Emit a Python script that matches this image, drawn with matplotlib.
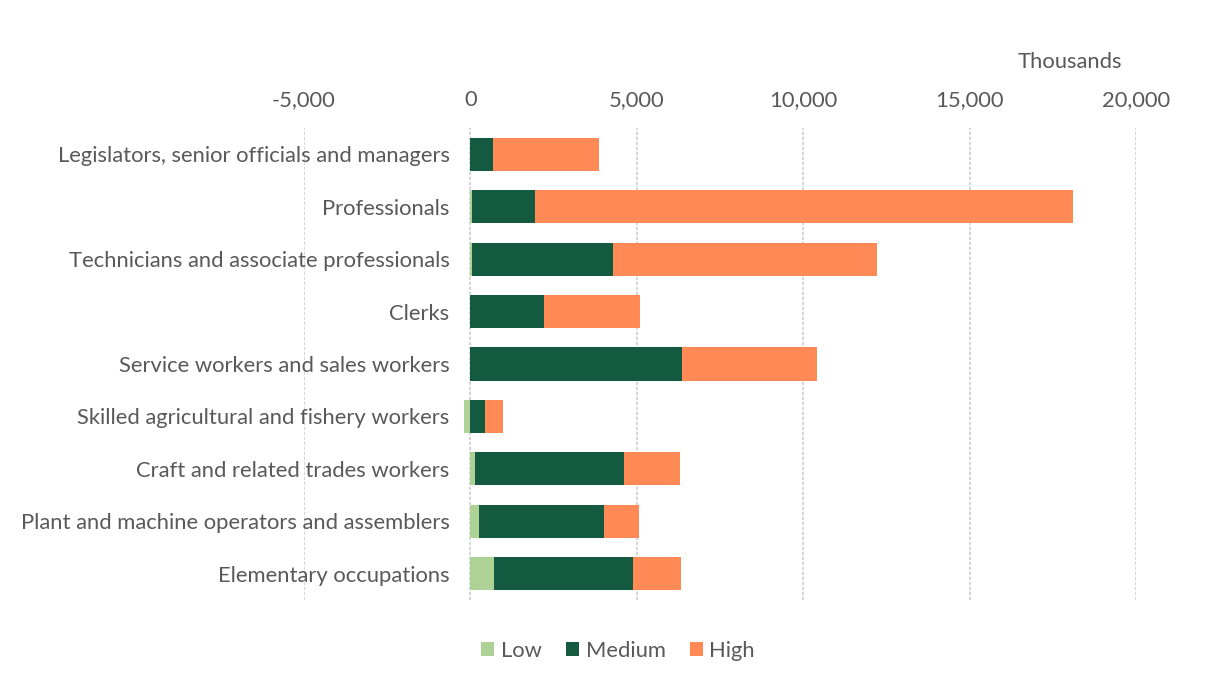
import matplotlib
matplotlib.use("Agg")
import matplotlib.pyplot as plt
from matplotlib.ticker import FuncFormatter
from matplotlib.patches import Patch

categories = [
    "Legislators, senior officials and managers",
    "Professionals",
    "Technicians and associate professionals",
    "Clerks",
    "Service workers and sales workers",
    "Skilled agricultural and fishery workers",
    "Craft and related trades workers",
    "Plant and machine operators and assemblers",
    "Elementary occupations",
]
low = [0, 60, 60, 0, 0, -200, 140, 260, 712]
medium = [670, 1890, 4220, 2225, 6345, 451, 4480, 3750, 4170]
high = [3180, 16155, 7930, 2857, 4060, 520, 1670, 1064, 1455]
series_names = ["Low", "Medium", "High"]
colors = ["#AED296", "#145A41", "#FF8A56"]
xticks = [-5000, 0, 5000, 10000, 15000, 20000]

plt.rcParams['font.family'] = ['Lato', 'DejaVu Sans']
text_color = "#595959"
fs = 15.8

fig = plt.figure(figsize=(12.11, 6.81), dpi=100)
ax = fig.add_axes([304/1211, 1 - 600/681, (1136-304)/1211, (600-128)/681])

y = list(range(len(categories)))
h = 0.63
ax.barh(y, low, height=h, color=colors[0], left=0)
med_left = [max(l, 0) for l in low]
ax.barh(y, medium, height=h, color=colors[1], left=med_left)
high_left = [ml + m for ml, m in zip(med_left, medium)]
ax.barh(y, high, height=h, color=colors[2], left=high_left)

ax.set_xlim(-5000, 20000)
ax.set_ylim(len(categories) - 0.5, -0.5)
ax.set_xticks(xticks)
ax.xaxis.set_major_formatter(FuncFormatter(lambda v, p: f"{int(v):,}"))
ax.xaxis.tick_top()
ax.tick_params(axis='x', length=0, pad=13, labelsize=fs, labelcolor=text_color)
ax.set_yticks(y)
ax.set_yticklabels(categories)
ax.spines['left'].set_position(('data', 0))
ax.tick_params(axis='y', length=0, pad=15, labelsize=fs, labelcolor=text_color)
for s in ax.spines.values():
    s.set_visible(False)
ax.grid(axis='x', color="#D0D0D0", linestyle=(0, (2, 1)), linewidth=1.2)
ax.set_axisbelow(True)

fig.text(1070/1211, 1 - 62/681, "Thousands", ha='center', va='center',
         fontsize=fs, color=text_color)

handles = [Patch(facecolor=c, edgecolor='none') for c in colors]
fig.legend(handles, series_names, loc='center', bbox_to_anchor=(618/1211, 1 - 651/681),
           ncol=3, frameon=False, fontsize=fs, labelcolor=text_color,
           handlelength=0.6, handleheight=0.6, handletextpad=0.3, columnspacing=1.1)

fig.savefig("out.png", dpi=100)
